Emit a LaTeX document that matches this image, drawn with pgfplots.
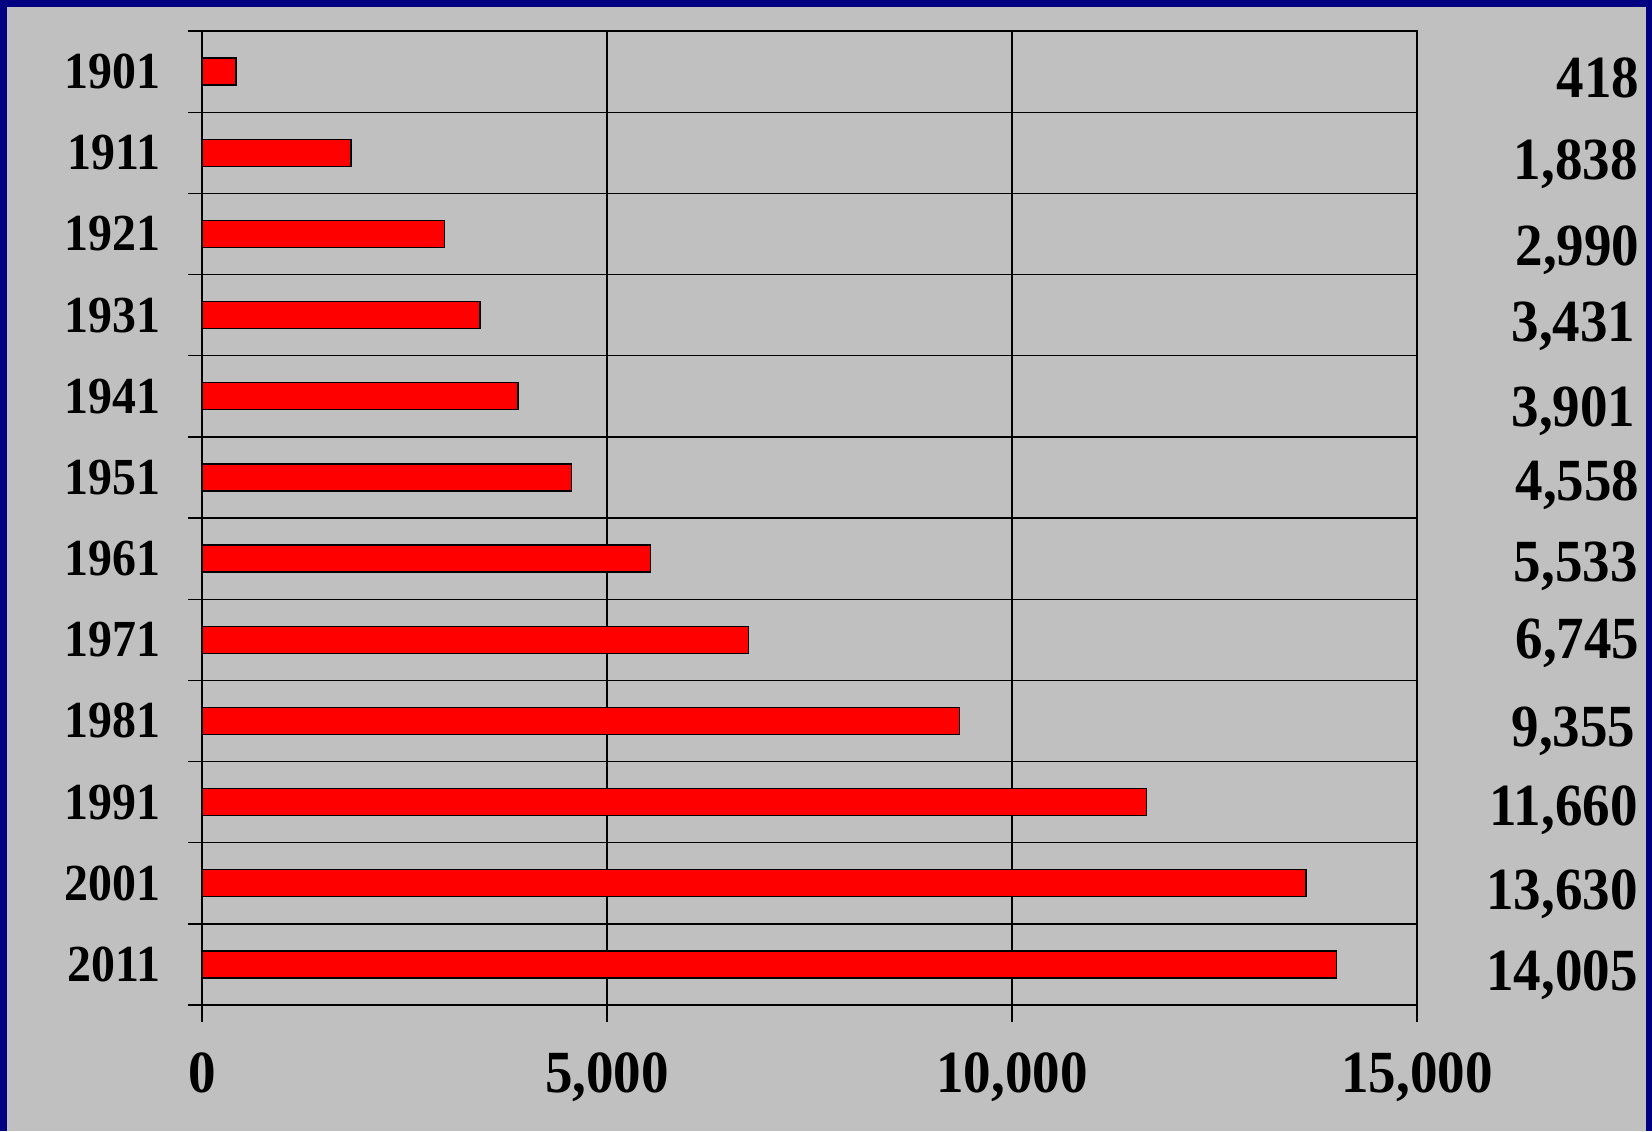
\documentclass[border=0pt]{standalone}
\usepackage{pgfplots}
\pgfplotsset{compat=1.18}
\usepackage{pgfplotstable}
\usepackage{fontspec}
\setmainfont{Liberation Serif}
\newfontfamily\lab{Liberation Serif}[FakeStretch=0.92]
\definecolor{navyb}{HTML}{000080}
\definecolor{bg}{HTML}{C0C0C0}

\pgfplotstableread{
y val
0 418
1 1838
2 2990
3 3431
4 3901
5 4558
6 5533
7 6745
8 9355
9 11660
10 13630
11 14005
}\bars

\pgfplotstableread{
x y lab
17750 0.079 418
17730 1.089 1,838
17750 2.149 2,990
17700 3.085 3,431
17700 4.132 3,901
17750 5.044 4,558
17730 6.042 5,533
17750 6.990 6,745
17700 8.075 9,355
17730 9.048 11,660
17730 10.083 13,630
17730 11.081 14,005
}\vals

\begin{document}
\begin{tikzpicture}[x=0.5pt,y=0.5pt]
\fill[navyb] (-202,-126) rectangle (1450,1005);
\fill[bg] (-195,-126) rectangle (1444,998);
\useasboundingbox (-202,-126) rectangle (1450,1005);
\begin{axis}[
  at={(0,0)}, anchor=south west,
  scale only axis, width=607.5pt, height=487pt,
  xmin=0, xmax=15000, ymin=-0.5, ymax=11.5, y dir=reverse,
  axis line style={line width=1pt, black},
  xtick={0,5000,10000,15000},
  xticklabels={0,{5,000},{10,000},{15,000}},
  ytick={0,...,11},
  yticklabels={1901,1911,1921,1931,1941,1951,1961,1971,1981,1991,2001,2011},
  minor ytick={-0.5,0.5,...,11.5},
  xmajorgrids, yminorgrids,
  grid style={black, line width=0.65pt},
  minor grid style={black, line width=0.65pt},
  tick align=outside, tick pos=left,
  major tick length=8.5pt, minor tick length=7pt,
  tick style={black, line width=0.65pt},
  every major y tick/.append style={draw=none},
  xticklabel style={font=\lab\fontsize{29.9}{30}\selectfont\bfseries, inner sep=0pt, yshift=-15pt},
  yticklabel style={font=\lab\fontsize{26}{26}\selectfont\bfseries, inner sep=0pt, xshift=-12pt},
  clip=false,
]
\addplot[xbar, bar width=13.5pt, fill=red, draw=black, line width=0.65pt] table[x=val, y=y]{\bars};
\addplot[only marks, mark=none, nodes near coords, point meta=explicit symbolic,
  every node near coord/.append style={anchor=east, text depth=0pt, inner sep=0pt,
    font=\lab\fontsize{29.9}{30}\selectfont\bfseries}]
  table[x=x, y=y, meta=lab]{\vals};
\end{axis}
\end{tikzpicture}
\end{document}
